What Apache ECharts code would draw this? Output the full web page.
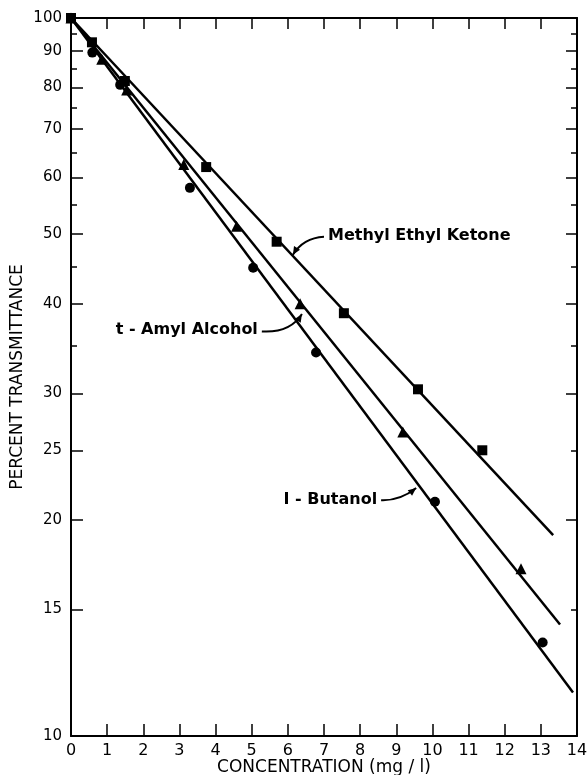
<!DOCTYPE html>
<html>
<head>
<meta charset="utf-8">
<script src="https://cdn.jsdelivr.net/npm/echarts@6/dist/echarts.min.js"></script>
<style>
  html, body { margin: 0; padding: 0; background: #fff; }
  #chart { width: 588px; height: 775px; }
</style>
</head>
<body>
<div id="chart"></div>
<script>
// Axis ticks and labels
const xTickValues = [0, 1, 2, 3, 4, 5, 6, 7, 8, 9, 10, 11, 12, 13, 14];
const yLabelValues = [10, 15, 20, 25, 30, 40, 50, 60, 70, 80, 90, 100];
const yMinorValues = [35, 45, 55, 65, 75, 85, 95];
const rightMajorValues = [20, 30, 40, 50, 60, 70, 80, 90];
const rightMinorValues = [15, 25, 35, 45, 55, 65, 75, 85, 95];

// Measured transmittance (%) vs concentration (mg/l)
const mekPoints = [[0, 100], [0.58, 92.5], [1.49, 81.7], [3.74, 62.0], [5.69, 48.8], [7.55, 38.8], [9.60, 30.4], [11.38, 25.0]];
const amylPoints = [[0, 100], [0.85, 87.6], [1.54, 79.4], [3.12, 62.5], [4.58, 51.3], [6.34, 40.0], [9.18, 26.5], [12.45, 17.1]];
const butanolPoints = [[0, 100], [0.59, 89.5], [1.36, 80.7], [3.29, 58.0], [5.04, 44.9], [6.78, 34.2], [10.07, 21.2], [13.05, 13.5]];

// Fitted Beer-Lambert lines (straight on the log scale)
const mekFit = [[0, 100], [13.34, 19.05]];
const amylFit = [[0, 100], [13.53, 14.3]];
const butanolFit = [[0, 100], [13.89, 11.5]];

// Curve labels: text anchor, arrow start, arrow control point, arrow tip (data coordinates)
const labelNames = ['Methyl Ethyl Ketone', 't - Amyl Alcohol', 'I - Butanol'];
const labelAnchors = [[7.11, 49.7], [5.17, 36.8], [8.47, 21.3]];
const labelAligns = ['left', 'right', 'right'];
const arrowStarts = [[7.00, 49.6], [5.28, 36.6], [8.58, 21.3]];
const arrowControls = [[6.42, 49.4], [6.06, 36.4], [9.10, 21.25]];
const arrowTips = [[6.14, 46.8], [6.39, 38.7], [9.55, 22.15]];

const FONT = '"DejaVu Sans", sans-serif';
const INK = '#000';

const chart = echarts.init(document.getElementById('chart'), null, { renderer: 'canvas' });

function logAxisBase(extra) {
  return Object.assign({
    type: 'log', logBase: 10, min: 10, max: 100,
    splitLine: { show: false },
    axisLine: { show: false },
    axisLabel: { show: false },
    axisTick: { show: false }
  }, extra);
}

const option = {
  animation: false,
  backgroundColor: '#fff',
  grid: { left: 71, right: 11, top: 18, bottom: 39, containLabel: false, outerBoundsMode: 'none' },
  xAxis: [
    {
      type: 'value', min: 0, max: 14, interval: 1,
      name: 'CONCENTRATION (mg / l)', nameLocation: 'middle', nameGap: 23, nameMoveOverlap: false,
      nameTextStyle: { fontFamily: FONT, fontSize: 17, color: INK },
      axisLine: { show: true, lineStyle: { color: INK, width: 2 } },
      axisTick: { show: true, inside: true, length: 12, lineStyle: { color: INK, width: 1.5 } },
      axisLabel: { fontFamily: FONT, fontSize: 16, color: INK, margin: 7,
        formatter: v => xTickValues.includes(v) ? String(v) : '' },
      splitLine: { show: false }
    },
    {
      type: 'value', min: 0, max: 14, interval: 1, position: 'top',
      axisLine: { show: true, onZero: false, lineStyle: { color: INK, width: 2 } },
      axisTick: { show: true, inside: true, length: 11, lineStyle: { color: INK, width: 1.5 } },
      axisLabel: { show: false },
      splitLine: { show: false }
    }
  ],
  yAxis: [
    logAxisBase({
      name: 'PERCENT TRANSMITTANCE', nameLocation: 'middle', nameGap: 45, nameMoveOverlap: false,
      nameTextStyle: { fontFamily: FONT, fontSize: 17, color: INK },
      axisLine: { show: true, lineStyle: { color: INK, width: 2 } },
      axisTick: { show: true, inside: true, length: 12, customValues: yLabelValues,
        lineStyle: { color: INK, width: 1.5 } },
      axisLabel: { show: true, fontFamily: FONT, fontSize: 15, color: INK, margin: 9,
        customValues: yLabelValues }
    }),
    logAxisBase({
      position: 'left',
      axisTick: { show: true, inside: true, length: 6, customValues: yMinorValues,
        lineStyle: { color: INK, width: 1.5 } }
    }),
    logAxisBase({
      position: 'right',
      axisLine: { show: true, onZero: false, lineStyle: { color: INK, width: 2 } },
      axisTick: { show: true, inside: true, length: 11, customValues: rightMajorValues,
        lineStyle: { color: INK, width: 1.5 } }
    }),
    logAxisBase({
      position: 'right',
      axisTick: { show: true, inside: true, length: 6, customValues: rightMinorValues,
        lineStyle: { color: INK, width: 1.5 } }
    })
  ],
  series: [
    { type: 'line', data: mekFit, symbol: 'none', lineStyle: { color: INK, width: 2.5 }, silent: true },
    { type: 'line', data: amylFit, symbol: 'none', lineStyle: { color: INK, width: 2.5 }, silent: true },
    { type: 'line', data: butanolFit, symbol: 'none', lineStyle: { color: INK, width: 2.5 }, silent: true },
    { type: 'scatter', data: mekPoints, symbol: 'rect', symbolSize: 10, itemStyle: { color: INK, opacity: 1 } },
    { type: 'scatter', data: amylPoints, symbol: 'triangle', symbolSize: 11, itemStyle: { color: INK, opacity: 1 } },
    { type: 'scatter', data: butanolPoints, symbol: 'circle', symbolSize: 10, itemStyle: { color: INK, opacity: 1 } }
  ]
};

chart.setOption(option);

// Curve labels with curved leader arrows
const toPx = p => chart.convertToPixel({ xAxisIndex: 0, yAxisIndex: 0 }, p);
const graphics = [];
labelNames.forEach((name, i) => {
  const a = toPx(labelAnchors[i]);
  graphics.push({
    type: 'text', x: a[0], y: a[1],
    style: { text: name, fill: INK, font: 'bold 16px ' + FONT,
      textAlign: labelAligns[i], textVerticalAlign: 'middle' }
  });
  const s = toPx(arrowStarts[i]), c = toPx(arrowControls[i]), t = toPx(arrowTips[i]);
  graphics.push({
    type: 'bezierCurve',
    shape: { x1: s[0], y1: s[1], cpx1: c[0], cpy1: c[1], x2: t[0], y2: t[1] },
    style: { stroke: INK, lineWidth: 2, fill: null }
  });
  const dx = t[0] - c[0], dy = t[1] - c[1];
  const len = Math.hypot(dx, dy) || 1;
  const ux = dx / len, uy = dy / len;
  const hl = 8, hw = 3.5;
  const bx = t[0] - ux * hl, by = t[1] - uy * hl;
  graphics.push({
    type: 'polygon',
    shape: { points: [[t[0], t[1]], [bx - uy * hw, by + ux * hw], [bx + uy * hw, by - ux * hw]] },
    style: { fill: INK }
  });
});
chart.setOption({ graphic: graphics });
</script>
</body>
</html>
